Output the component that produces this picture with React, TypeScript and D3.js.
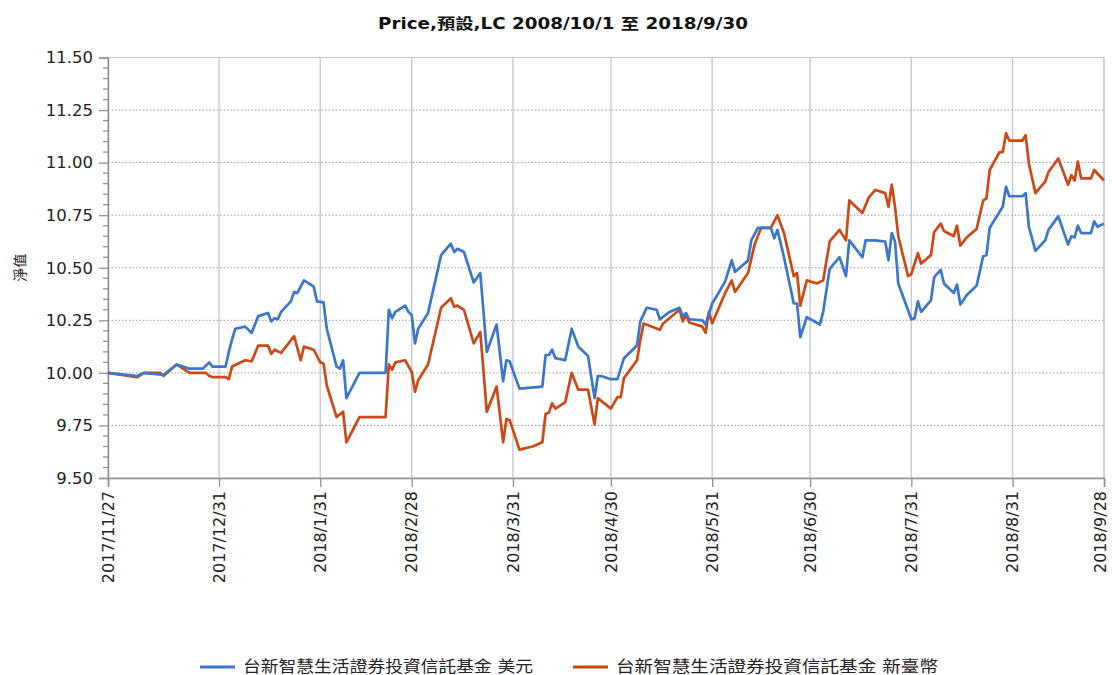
import { useEffect, useRef } from "react";
import * as d3 from "d3";

const chartTitle = "Price,預設,LC 2008/10/1 至 2018/9/30";
const yTitle = "淨值";
const seriesNames = ["台新智慧生活證券投資信託基金 美元", "台新智慧生活證券投資信託基金 新臺幣"];
const seriesColors = ["#3a77cb", "#cc4815"];

const xTickLabels = [
  "2017/11/27", "2017/12/31", "2018/1/31", "2018/2/28", "2018/3/31", "2018/4/30",
  "2018/5/31", "2018/6/30", "2018/7/31", "2018/8/31", "2018/9/28",
];
const yTicks = [9.5, 9.75, 10.0, 10.25, 10.5, 10.75, 11.0, 11.25, 11.5];

// 美元
const usdDates = [
  "2017/11/27", "2017/12/6", "2017/12/8", "2017/12/14", "2017/12/18", "2017/12/22", "2017/12/26",
  "2017/12/28", "2017/12/29", "2018/1/2", "2018/1/3", "2018/1/4", "2018/1/5", "2018/1/8",
  "2018/1/10", "2018/1/12", "2018/1/15", "2018/1/16", "2018/1/17", "2018/1/18", "2018/1/19",
  "2018/1/22", "2018/1/23", "2018/1/24", "2018/1/26", "2018/1/29", "2018/1/30", "2018/2/1",
  "2018/2/2", "2018/2/5", "2018/2/6", "2018/2/7", "2018/2/8", "2018/2/12", "2018/2/20",
  "2018/2/21", "2018/2/22", "2018/2/23", "2018/2/26", "2018/2/27", "2018/2/28", "2018/3/1",
  "2018/3/2", "2018/3/5", "2018/3/9", "2018/3/12", "2018/3/13", "2018/3/14", "2018/3/16",
  "2018/3/19", "2018/3/21", "2018/3/23", "2018/3/26", "2018/3/28", "2018/3/29", "2018/3/30",
  "2018/4/2", "2018/4/9", "2018/4/10", "2018/4/11", "2018/4/12", "2018/4/13", "2018/4/16",
  "2018/4/18", "2018/4/20", "2018/4/23", "2018/4/25", "2018/4/26", "2018/4/27", "2018/4/30",
  "2018/5/2", "2018/5/4", "2018/5/8", "2018/5/9", "2018/5/11", "2018/5/14", "2018/5/15",
  "2018/5/18", "2018/5/21", "2018/5/22", "2018/5/23", "2018/5/24", "2018/5/28", "2018/5/29",
  "2018/5/31", "2018/6/1", "2018/6/4", "2018/6/6", "2018/6/7", "2018/6/11", "2018/6/12",
  "2018/6/14", "2018/6/18", "2018/6/19", "2018/6/20", "2018/6/22", "2018/6/25", "2018/6/26",
  "2018/6/27", "2018/6/29", "2018/7/3", "2018/7/4", "2018/7/6", "2018/7/9", "2018/7/11",
  "2018/7/12", "2018/7/16", "2018/7/17", "2018/7/20", "2018/7/23", "2018/7/24", "2018/7/25",
  "2018/7/26", "2018/7/27", "2018/7/31", "2018/8/1", "2018/8/2", "2018/8/3", "2018/8/6",
  "2018/8/7", "2018/8/9", "2018/8/10", "2018/8/13", "2018/8/14", "2018/8/15", "2018/8/17",
  "2018/8/20", "2018/8/22", "2018/8/23", "2018/8/24", "2018/8/28", "2018/8/29", "2018/8/30",
  "2018/9/3", "2018/9/4", "2018/9/5", "2018/9/7", "2018/9/10", "2018/9/11", "2018/9/14",
  "2018/9/17", "2018/9/18", "2018/9/19", "2018/9/20", "2018/9/21", "2018/9/24", "2018/9/25",
  "2018/9/26", "2018/9/28",
];
const usdValues = [
  10.0, 9.985, 10.0, 9.99, 10.04, 10.02, 10.02,
  10.05, 10.03, 10.03, 10.1, 10.16, 10.21, 10.22,
  10.19, 10.27, 10.285, 10.245, 10.26, 10.255, 10.29,
  10.34, 10.385, 10.38, 10.44, 10.41, 10.34, 10.335,
  10.21, 10.03, 10.02, 10.06, 9.88, 10.0, 10.0,
  10.3, 10.26, 10.29, 10.32, 10.29, 10.275, 10.14,
  10.21, 10.285, 10.56, 10.615, 10.575, 10.59, 10.575,
  10.43, 10.475, 10.1, 10.23, 9.96, 10.06, 10.055,
  9.925, 9.935, 10.085, 10.085, 10.11, 10.07, 10.06,
  10.21, 10.125, 10.08, 9.88, 9.985, 9.985, 9.97,
  9.97, 10.07, 10.13, 10.245, 10.31, 10.3, 10.255,
  10.29, 10.31, 10.27, 10.285, 10.255, 10.25, 10.23,
  10.33, 10.355, 10.435, 10.535, 10.48, 10.535, 10.63,
  10.69, 10.69, 10.64, 10.68, 10.55, 10.33, 10.33,
  10.17, 10.265, 10.23, 10.29, 10.495, 10.55, 10.46,
  10.63, 10.55, 10.63, 10.63, 10.625, 10.535, 10.665,
  10.625, 10.425, 10.255, 10.26, 10.34, 10.29, 10.345,
  10.455, 10.49, 10.425, 10.38, 10.42, 10.325, 10.37,
  10.415, 10.555, 10.56, 10.69, 10.79, 10.885, 10.84,
  10.84, 10.855, 10.695, 10.58, 10.63, 10.68, 10.745,
  10.61, 10.65, 10.645, 10.7, 10.665, 10.665, 10.72,
  10.695, 10.71,
];

// 新臺幣
const twdDates = [
  "2017/11/27", "2017/12/6", "2017/12/8", "2017/12/13", "2017/12/14", "2017/12/18", "2017/12/22",
  "2017/12/27", "2017/12/28", "2017/12/29", "2018/1/2", "2018/1/3", "2018/1/4", "2018/1/8",
  "2018/1/10", "2018/1/12", "2018/1/15", "2018/1/16", "2018/1/17", "2018/1/19", "2018/1/23",
  "2018/1/25", "2018/1/26", "2018/1/29", "2018/1/31", "2018/2/1", "2018/2/2", "2018/2/5",
  "2018/2/7", "2018/2/8", "2018/2/12", "2018/2/20", "2018/2/21", "2018/2/22", "2018/2/23",
  "2018/2/26", "2018/2/28", "2018/3/1", "2018/3/2", "2018/3/5", "2018/3/9", "2018/3/12",
  "2018/3/13", "2018/3/14", "2018/3/16", "2018/3/19", "2018/3/21", "2018/3/23", "2018/3/26",
  "2018/3/28", "2018/3/29", "2018/3/30", "2018/4/2", "2018/4/6", "2018/4/9", "2018/4/10",
  "2018/4/11", "2018/4/12", "2018/4/13", "2018/4/16", "2018/4/18", "2018/4/20", "2018/4/23",
  "2018/4/25", "2018/4/26", "2018/4/30", "2018/5/2", "2018/5/3", "2018/5/4", "2018/5/8",
  "2018/5/9", "2018/5/10", "2018/5/15", "2018/5/16", "2018/5/21", "2018/5/22", "2018/5/23",
  "2018/5/24", "2018/5/28", "2018/5/29", "2018/5/30", "2018/5/31", "2018/6/4", "2018/6/6",
  "2018/6/7", "2018/6/11", "2018/6/13", "2018/6/15", "2018/6/18", "2018/6/20", "2018/6/22",
  "2018/6/25", "2018/6/26", "2018/6/27", "2018/6/29", "2018/7/2", "2018/7/4", "2018/7/6",
  "2018/7/9", "2018/7/11", "2018/7/12", "2018/7/16", "2018/7/18", "2018/7/20", "2018/7/23",
  "2018/7/24", "2018/7/25", "2018/7/26", "2018/7/27", "2018/7/30", "2018/7/31", "2018/8/2",
  "2018/8/3", "2018/8/6", "2018/8/7", "2018/8/9", "2018/8/10", "2018/8/13", "2018/8/14",
  "2018/8/15", "2018/8/17", "2018/8/20", "2018/8/22", "2018/8/23", "2018/8/24", "2018/8/27",
  "2018/8/28", "2018/8/29", "2018/8/30", "2018/9/3", "2018/9/4", "2018/9/5", "2018/9/7",
  "2018/9/10", "2018/9/11", "2018/9/14", "2018/9/17", "2018/9/18", "2018/9/19", "2018/9/20",
  "2018/9/21", "2018/9/24", "2018/9/25", "2018/9/28",
];
const twdValues = [
  10.0, 9.98, 10.0, 10.0, 9.985, 10.04, 10.0,
  10.0, 9.985, 9.98, 9.98, 9.97, 10.03, 10.06,
  10.055, 10.13, 10.13, 10.09, 10.11, 10.095, 10.175,
  10.06, 10.125, 10.11, 10.05, 10.045, 9.94, 9.79,
  9.815, 9.67, 9.79, 9.79, 10.04, 10.015, 10.05,
  10.06, 10.005, 9.91, 9.965, 10.04, 10.31, 10.355,
  10.315, 10.32, 10.3, 10.14, 10.195, 9.815, 9.935,
  9.67, 9.78, 9.775, 9.635, 9.65, 9.67, 9.805,
  9.81, 9.855, 9.83, 9.86, 10.0, 9.92, 9.92,
  9.755, 9.88, 9.83, 9.885, 9.885, 9.975, 10.06,
  10.155, 10.235, 10.205, 10.235, 10.3, 10.245, 10.275,
  10.24, 10.22, 10.19, 10.29, 10.235, 10.38, 10.44,
  10.385, 10.475, 10.61, 10.69, 10.69, 10.75, 10.665,
  10.46, 10.475, 10.32, 10.44, 10.425, 10.44, 10.625,
  10.68, 10.63, 10.82, 10.76, 10.835, 10.87, 10.855,
  10.79, 10.895, 10.79, 10.65, 10.46, 10.47, 10.57,
  10.52, 10.56, 10.67, 10.71, 10.675, 10.65, 10.7,
  10.605, 10.645, 10.685, 10.82, 10.83, 10.965, 11.05,
  11.05, 11.14, 11.105, 11.105, 11.13, 10.995, 10.855,
  10.91, 10.955, 11.02, 10.895, 10.94, 10.915, 11.005,
  10.925, 10.925, 10.965, 10.915,
];

const FONT = "'DejaVu Sans', 'Noto Sans CJK TC', sans-serif";

export default function App() {
  const svgRef = useRef(null);

  useEffect(() => {
    const width = 1112;
    const height = 675;
    const margin = { top: 57.5, right: 8, bottom: 197, left: 108 };
    const parse = d3.timeParse("%Y/%m/%d");

    const svg = d3.select(svgRef.current);
    svg.selectAll("*").remove();
    svg.attr("width", width).attr("height", height);

    const xScale = d3
      .scaleTime()
      .domain([parse(xTickLabels[0]), parse(xTickLabels[xTickLabels.length - 1])])
      .range([margin.left, width - margin.right]);
    const yScale = d3
      .scaleLinear()
      .domain([9.5, 11.5])
      .range([height - margin.bottom, margin.top]);

    const x0 = margin.left;
    const x1 = width - margin.right;
    const y0 = height - margin.bottom;
    const y1 = margin.top;

    // horizontal dotted grid
    svg.append("g")
      .selectAll("line")
      .data(yTicks.slice(1, -1))
      .enter()
      .append("line")
      .attr("x1", x0)
      .attr("x2", x1)
      .attr("y1", d => yScale(d))
      .attr("y2", d => yScale(d))
      .attr("stroke", "#9a9a9a")
      .attr("stroke-dasharray", "1.5,2")
      .attr("stroke-width", 1);

    // vertical grid at month ends
    svg.append("g")
      .selectAll("line")
      .data(xTickLabels.slice(1))
      .enter()
      .append("line")
      .attr("x1", d => xScale(parse(d)))
      .attr("x2", d => xScale(parse(d)))
      .attr("y1", y1)
      .attr("y2", y0)
      .attr("stroke", "#c4c6cc")
      .attr("stroke-width", 1.3);

    // frame
    svg.append("rect")
      .attr("x", x0)
      .attr("y", y1)
      .attr("width", x1 - x0)
      .attr("height", y0 - y1)
      .attr("fill", "none")
      .attr("stroke", "#c4c6cc")
      .attr("stroke-width", 1);

    // y axis
    const yAxis = d3.axisLeft(yScale)
      .tickValues(yTicks)
      .tickFormat(d => d3.format(".2f")(d))
      .tickSize(9)
      .tickPadding(6);
    const yg = svg.append("g").attr("transform", `translate(${x0},0)`).call(yAxis);
    yg.select(".domain").attr("stroke", "#8e9096").attr("stroke-width", 1.5);
    yg.selectAll(".tick line").attr("stroke", "#8e9096").attr("stroke-width", 1.3);
    yg.selectAll("text")
      .attr("font-family", FONT)
      .attr("font-size", 16.5)
      .attr("fill", "#222");

    // minor y ticks
    const minor = d3.range(9.55, 11.5, 0.05).filter(v => Math.abs(v * 4 - Math.round(v * 4)) > 0.01);
    svg.append("g")
      .selectAll("line")
      .data(minor)
      .enter()
      .append("line")
      .attr("x1", x0 - 5)
      .attr("x2", x0)
      .attr("y1", d => yScale(d))
      .attr("y2", d => yScale(d))
      .attr("stroke", "#8e9096")
      .attr("stroke-width", 1.3);

    // x axis
    const xAxis = d3.axisBottom(xScale)
      .tickValues(xTickLabels.map(d => parse(d)))
      .tickFormat((d, i) => xTickLabels[i])
      .tickSize(9)
      .tickPadding(4);
    const xg = svg.append("g").attr("transform", `translate(0,${y0})`).call(xAxis);
    xg.select(".domain").attr("stroke", "#8e9096").attr("stroke-width", 1.5);
    xg.selectAll(".tick line").attr("stroke", "#8e9096").attr("stroke-width", 1.3);
    xg.selectAll("text")
      .attr("font-family", FONT)
      .attr("font-size", 16)
      .attr("fill", "#222")
      .attr("text-anchor", "end")
      .attr("dy", (d, i) => (i === xTickLabels.length - 1 ? "0.12em" : "0.33em"))
      .attr("transform", "rotate(-90)")
      .attr("x", -13)
      .attr("y", 0);

    // lines
    const line = d3.line()
      .x(d => xScale(d[0]))
      .y(d => yScale(d[1]));

    const series = [
      usdDates.map((d, i) => [parse(d), usdValues[i]]),
      twdDates.map((d, i) => [parse(d), twdValues[i]]),
    ];
    [1, 0].forEach(i => {
      svg.append("path")
        .datum(series[i])
        .attr("fill", "none")
        .attr("stroke", seriesColors[i])
        .attr("stroke-width", 2.7)
        .attr("stroke-linejoin", "round")
        .attr("d", line);
    });

    // title
    svg.append("text")
      .attr("x", 563)
      .attr("y", 29)
      .attr("text-anchor", "middle")
      .attr("font-family", FONT)
      .attr("font-weight", "bold")
      .attr("font-size", 15)
      .attr("textLength", 370)
      .attr("lengthAdjust", "spacingAndGlyphs")
      .attr("fill", "#111")
      .text(chartTitle);

    // y title
    svg.append("text")
      .attr("transform", `translate(25,${(y0 + y1) / 2}) rotate(-90)`)
      .attr("text-anchor", "middle")
      .attr("font-family", FONT)
      .attr("font-size", 14)
      .attr("fill", "#222")
      .text(yTitle);

    // legend
    const legendX = [200, 573];
    const legendW = [290, 322];
    const legend = svg.append("g");
    seriesNames.forEach((name, i) => {
      legend.append("line")
        .attr("x1", legendX[i])
        .attr("x2", legendX[i] + 35)
        .attr("y1", 667)
        .attr("y2", 667)
        .attr("stroke", seriesColors[i])
        .attr("stroke-width", 3);
      legend.append("text")
        .attr("x", legendX[i] + 43)
        .attr("y", 672)
        .attr("font-family", FONT)
        .attr("font-size", 16)
        .attr("textLength", legendW[i])
        .attr("lengthAdjust", "spacingAndGlyphs")
        .attr("fill", "#222")
        .text(name);
    });
  }, []);

  return (
    <div style={{ position: "absolute", left: 0, top: 0 }}>
      <svg ref={svgRef} style={{ display: "block", background: "#fff" }}></svg>
    </div>
  );
}
